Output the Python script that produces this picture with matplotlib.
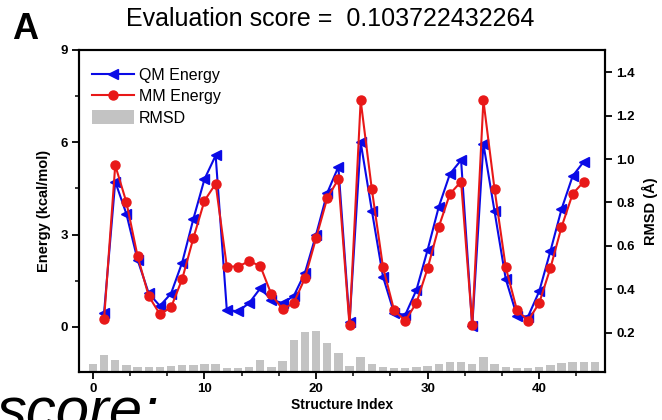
import matplotlib
matplotlib.use("Agg")
import matplotlib.pyplot as plt
from matplotlib.ticker import MultipleLocator, AutoMinorLocator
from matplotlib.patches import Patch
from matplotlib.lines import Line2D

plt.rcParams['font.family'] = ['Liberation Sans', 'DejaVu Sans']

# structure index for energies (1..44) and rmsd bars (0..45)
idx = list(range(1, 45))
bar_idx = list(range(0, 46))

qm_energy = [0.46, 4.72, 3.67, 2.18, 1.09, 0.68, 1.08, 2.09, 3.50, 4.80, 5.57,
             0.55, 0.50, 0.77, 1.25, 0.88, 0.77, 1.00, 1.75, 2.99, 4.35, 5.20,
             0.14, 6.00, 3.78, 1.63, 0.44, 0.39, 1.20, 2.50, 3.90, 4.97, 5.42,
             0.01, 5.95, 3.75, 1.56, 0.36, 0.33, 1.15, 2.45, 3.82, 4.90, 5.37]
mm_energy = [0.25, 5.25, 4.05, 2.30, 1.00, 0.41, 0.63, 1.55, 2.88, 4.10, 4.65,
             1.96, 1.96, 2.13, 1.98, 1.05, 0.57, 0.77, 1.58, 2.88, 4.18, 4.80,
             0.05, 7.36, 4.47, 1.94, 0.53, 0.20, 0.78, 1.90, 3.25, 4.32, 4.72,
             0.05, 7.36, 4.47, 1.94, 0.55, 0.20, 0.77, 1.90, 3.24, 4.32, 4.72]
rmsd = [0.054, 0.097, 0.073, 0.051, 0.042, 0.040, 0.040, 0.045, 0.048, 0.050,
        0.056, 0.057, 0.036, 0.036, 0.040, 0.073, 0.040, 0.070, 0.166, 0.202,
        0.205, 0.151, 0.105, 0.047, 0.089, 0.053, 0.041, 0.036, 0.036, 0.041,
        0.047, 0.056, 0.062, 0.063, 0.054, 0.089, 0.053, 0.041, 0.036, 0.038,
        0.043, 0.049, 0.058, 0.062, 0.063, 0.062]

fig = plt.figure(figsize=(6.62, 4.2), dpi=100)
ax = fig.add_axes([0.1193, 0.1143, 0.7946, 0.7667])
ax2 = ax.twinx()

# bars on the right axis, drawn behind the energy lines
ax2.bar(bar_idx, rmsd, width=0.75, color='#c3c3c3', zorder=1)
ax2.set_ylim(0.018, 1.503)
ax2.yaxis.set_major_locator(MultipleLocator(0.2))

ax.set_zorder(ax2.get_zorder() + 1)
ax.patch.set_visible(False)

ax.plot(idx, qm_energy, color='#0a0ae6', lw=1.5, marker='<', ms=7.5,
        markeredgecolor='#0a0ae6', label='QM Energy')
ax.plot(idx, mm_energy, color='#e81818', lw=1.5, marker='o', ms=6.5,
        markeredgecolor='#e81818', label='MM Energy')

ax.set_xlim(-1.25, 45.9)
ax.set_ylim(-1.47, 9)
ax.xaxis.set_major_locator(MultipleLocator(10))
ax.xaxis.set_minor_locator(AutoMinorLocator(3))
ax.yaxis.set_major_locator(MultipleLocator(3))
ax.yaxis.set_minor_locator(AutoMinorLocator(2))

for a in (ax, ax2):
    for s in a.spines.values():
        s.set_linewidth(1.5)
ax.tick_params(axis='both', which='major', direction='out', length=5, width=1.3,
               labelsize=9.5, pad=3)
ax.tick_params(axis='both', which='minor', direction='out', length=3, width=1.1)
ax2.tick_params(axis='y', which='major', direction='out', length=5, width=1.3,
                labelsize=9.5, pad=3)
for lab in ax.get_xticklabels() + ax.get_yticklabels() + ax2.get_yticklabels():
    lab.set_fontweight('bold')

ax.set_xlabel('Structure Index', fontsize=10, fontweight='bold', labelpad=2)
ax.set_ylabel('Energy (kcal/mol)', fontsize=10.5, fontweight='bold', labelpad=7)
ax2.set_ylabel('RMSD (Å)', fontsize=10.5, fontweight='bold', labelpad=5)

handles = [
    Line2D([], [], color='#0a0ae6', lw=1.5, marker='<', ms=7.5),
    Line2D([], [], color='#e81818', lw=1.5, marker='o', ms=6.5),
    Patch(facecolor='#c3c3c3', edgecolor='none'),
]
ax.legend(handles, ['QM Energy', 'MM Energy', 'RMSD'], loc='upper left',
          bbox_to_anchor=(-0.005, 0.995), frameon=False, fontsize=11.5,
          handlelength=2.6, handleheight=1.0, handletextpad=0.3,
          labelspacing=0.35, borderpad=0.5)

fig.text(0.4985, 0.955, 'Evaluation score =  0.103722432264', fontsize=18,
         ha='center', va='center')
fig.text(0.018, 0.930, 'A', fontsize=26, fontweight='bold', ha='left',
         va='center')
fig.text(-0.004, -0.022, 'score:', fontsize=43, style='italic', ha='left',
         va='baseline')

fig.savefig('out.png', dpi=100)
